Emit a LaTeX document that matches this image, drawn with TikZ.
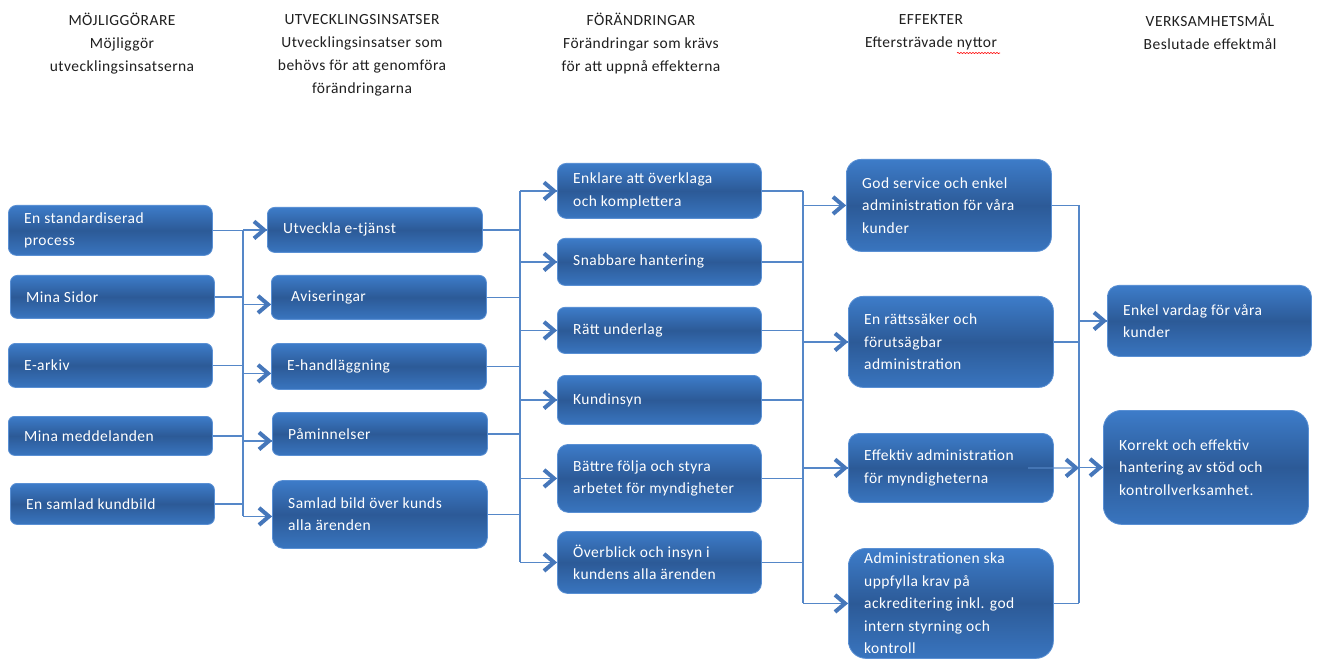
\documentclass[tikz,border=0pt]{standalone}
\usepackage{fontspec}
\setmainfont{Carlito}[LetterSpace=3]
\usetikzlibrary{decorations.pathmorphing}
\definecolor{boxtop}{HTML}{3D7CC9}
\definecolor{boxmid}{HTML}{2C5A97}
\definecolor{boxbot}{HTML}{3975BF}
\definecolor{boxedge}{HTML}{5A90D4}
\definecolor{linkc}{HTML}{5587C8}
\definecolor{chevc}{HTML}{4677BA}
\tikzset{
 box/.style={draw=boxedge, line width=0.8pt, top color=boxtop, bottom color=boxbot, middle color=boxmid, inner sep=0pt},
 boxtext/.style={text=white, align=left, font=\fontsize{15.5}{22.5}\selectfont, inner sep=0pt},
 hdr/.style={align=center, font=\fontsize{15.5}{23}\selectfont, text=black!88},
 link/.style={draw=linkc, line width=1.4pt},
 chevron/.style={draw=chevc, line width=4pt, line join=miter, miter limit=4},
}
\newcommand\bx[6]{%
 \node[box, anchor=north west, minimum width=#4pt, minimum height=#5pt, rounded corners=#5*0.16pt] (#1) at (#2,#3) {};
 \node[boxtext, anchor=west] (#1-t) at ([xshift=16pt]#1.west) {#6};}
% chevron arrow head ending at a named point
\newcommand\chev[1]{\draw[chevron] ([shift={(-13,-8.5)}]#1) -- ([shift={(-3,0)}]#1) -- ([shift={(-13,8.5)}]#1);}
\begin{document}
\begin{tikzpicture}[x=1pt,y=-1pt]
\useasboundingbox (0,0) rectangle (1320,660);
\fill[white] (0,0) rectangle (1320,660);
% headers
\node[hdr] (h1) at (122,43.5) {MÖJLIGGÖRARE\\Möjliggör\\utvecklingsinsatserna};
\node[hdr] (h2) at (362,55) {UTVECKLINGSINSATSER\\Utvecklingsinsatser som\\behövs för att genomföra\\förändringarna};
\node[hdr] (h3) at (641,43.5) {FÖRÄNDRINGAR\\Förändringar som krävs\\för att uppnå effekterna};
\node[hdr] (h4) at (931,32) {EFFEKTER\\Eftersträvade nyttor};
\node[hdr] (h5) at (1210,32) {VERKSAMHETSMÅL\\Beslutade effektmål};
\draw[red, line width=0.6pt, decorate, decoration={snake, amplitude=0.6pt, segment length=3pt}] (957,53) -- (1000,53);
% column 1
\bx{m1}{8}{205}{204}{50}{En standardiserad\\process}
\bx{m2}{10}{275}{204}{43}{Mina Sidor}
\bx{m3}{8}{343}{204}{44}{E-arkiv}
\bx{m4}{8}{416}{204}{39}{Mina meddelanden}
\bx{m5}{10}{483}{204}{41}{En samlad kundbild}
% column 2
\bx{u1}{267}{207}{215}{45}{Utveckla e-tjänst}
\bx{u2}{271}{275}{215}{44}{\hspace{4pt}Aviseringar}
\bx{u3}{271}{343}{215}{46}{E-handläggning}
\bx{u4}{272}{412}{215}{43}{Påminnelser}
\bx{u5}{272}{480}{215}{68}{Samlad bild över kunds\\alla ärenden}
% column 3
\bx{c1}{557}{163}{204}{55}{Enklare att överklaga\\och komplettera}
\bx{c2}{557}{238}{204}{47}{Snabbare hantering}
\bx{c3}{557}{307}{204}{46}{Rätt underlag}
\bx{c4}{557}{375}{204}{49}{Kundinsyn}
\bx{c5}{557}{444}{204}{68}{Bättre följa och styra\\arbetet för myndigheter}
\bx{c6}{557}{531}{204}{62}{Överblick och insyn i\\kundens alla ärenden}
% column 4
\bx{e1}{846}{159}{205}{92}{God service och enkel\\administration för våra\\kunder}
\bx{e2}{848}{296}{205}{91}{En rättssäker och\\förutsägbar\\administration}
\bx{e3}{848}{433}{205}{69}{Effektiv administration\\för myndigheterna}
\bx{e4}{848}{548}{205}{110}{Administrationen ska\\uppfylla krav på\\ackreditering inkl. god\\intern styrning och\\kontroll}
% column 5
\bx{v1}{1107}{285}{204}{71}{Enkel vardag för våra\\kunder}
\bx{v2}{1103}{410}{205}{114}{Korrekt och effektiv\\hantering av stöd och\\kontrollverksamhet.}
% trunk positions
\coordinate (T1) at (243,0);
\coordinate (T2) at (520,0);
\coordinate (T3) at (803,0);
\coordinate (T4) at (1079,0);
% col1 -> col2
\foreach \i in {1,...,5}{\draw[link] (m\i.east) -- (m\i.east -| T1);}
\coordinate (a1) at (u1.west);
\coordinate (a2) at ([yshift=-7pt]u2.west);
\coordinate (a3) at ([yshift=-7pt]u3.west);
\coordinate (a4) at ([yshift=-7pt]u4.west);
\coordinate (a5) at ([yshift=-2pt]u5.west);
\draw[link] (m1.east -| T1) -- (a5 -| T1);
\foreach \i in {1,...,5}{\draw[link] (a\i -| T1) -- (a\i); \chev{a\i}}
% col2 -> col3
\foreach \i in {1,...,5}{\draw[link] (u\i.east) -- (u\i.east -| T2);}
\draw[link] (c1.west -| T2) -- (c6.west -| T2);
\foreach \i in {1,...,6}{\draw[link] (c\i.west -| T2) -- (c\i.west); \chev{c\i.west}}
% col3 -> col4
\foreach \i in {1,...,6}{\draw[link] (c\i.east) -- (c\i.east -| T3);}
\draw[link] (c1.east -| T3) -- (e4.west -| T3);
\foreach \i in {1,...,4}{\draw[link] (e\i.west -| T3) -- (e\i.west); \chev{e\i.west}}
% col4 -> col5
\draw[link] (e1.east) -- (e1.east -| T4);
\draw[link] (e2.east) -- (e2.east -| T4);
\draw[link] (e4.east) -- (e4.east -| T4);
\draw[link] (e1.east -| T4) -- (e4.east -| T4);
\coordinate (t3) at (e3.east -| T4);
\draw[link, draw opacity=0.6] ([xshift=-26pt]e3.east) -- (t3); \chev{t3}
\draw[link] (v1.west -| T4) -- (v1.west); \chev{v1.west}
\draw[link] (v2.west -| T4) -- (v2.west); \chev{v2.west}
\end{tikzpicture}
\end{document}
